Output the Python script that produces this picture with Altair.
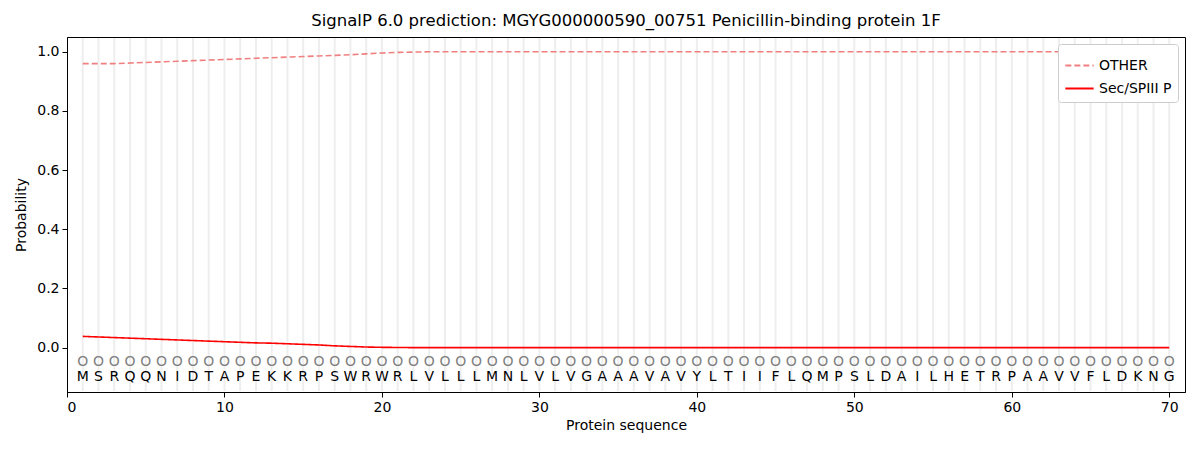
import altair as alt
import pandas as pd

sequence = list("MSRQQNIDTAPEKKRPSWRWRLVLLLMNLVLVGAAAVAVYLTIIFLQMPSLDAILHETRPAAVVFLDKNG")
positions = list(range(1, len(sequence) + 1))

other = [0.960, 0.960, 0.960, 0.962, 0.964, 0.966, 0.968, 0.970, 0.972, 0.974,
         0.976, 0.978, 0.980, 0.982, 0.984, 0.986, 0.988, 0.990, 0.993, 0.996,
         0.998, 0.999] + [1.0] * 48
sec_spiii = [0.038, 0.036, 0.034, 0.032, 0.030, 0.028, 0.026, 0.024, 0.022, 0.020,
             0.018, 0.016, 0.015, 0.013, 0.011, 0.009, 0.006, 0.004, 0.002, 0.001,
             0.0005] + [0.0] * 49

FONT = "DejaVu Sans"

lines = pd.DataFrame({
    "pos": positions * 2,
    "prob": other + sec_spiii,
    "label": ["OTHER"] * len(positions) + ["Sec/SPIII P"] * len(positions),
})
seq = pd.DataFrame({"pos": positions, "aa": sequence,
                    "circ": ["O"] * len(positions)})

xs = alt.Scale(domain=[0, 71], nice=False, zero=False)
ys = alt.Scale(domain=[-0.15, 1.05], nice=False, zero=False)

grid = alt.Chart(seq).mark_rule(color="#eeeeee", strokeWidth=2).encode(
    x=alt.X("pos:Q", scale=xs),
    y=alt.datum(1.047),
    y2=alt.datum(-0.147),
)

curves = alt.Chart(lines).mark_line(strokeWidth=1.6).encode(
    x=alt.X("pos:Q", scale=xs, title="Protein sequence",
            axis=alt.Axis(values=list(range(0, 71, 10)), grid=False, format="d")),
    y=alt.Y("prob:Q", scale=ys, title="Probability",
            axis=alt.Axis(values=[0, 0.2, 0.4, 0.6, 0.8, 1.0], format=".1f",
                          grid=False, titlePadding=8)),
    color=alt.Color("label:N", title=None,
                    scale=alt.Scale(domain=["OTHER", "Sec/SPIII P"],
                                    range=["#f08080", "#ff0000"]),
                    legend=alt.Legend(orient="top-right", symbolType="stroke",
                                      symbolStrokeWidth=2, symbolSize=800,
                                      fillColor="white", strokeColor="#cccccc",
                                      cornerRadius=3, padding=6, offset=7,
                                      labelFont=FONT, labelFontSize=14,
                                      rowPadding=0)),
    strokeDash=alt.StrokeDash("label:N",
                              scale=alt.Scale(domain=["OTHER", "Sec/SPIII P"],
                                              range=[[6, 3], [1, 0]]),
                              legend=None),
)

circles = alt.Chart(seq).mark_text(font=FONT, fontSize=14, color="#808080").encode(
    x=alt.X("pos:Q", scale=xs),
    y=alt.datum(-0.05),
    text="circ:N",
)

letters = alt.Chart(seq).mark_text(font=FONT, fontSize=14, color="black").encode(
    x=alt.X("pos:Q", scale=xs),
    y=alt.datum(-0.1),
    text="aa:N",
)

chart = alt.layer(grid, curves, circles, letters).properties(
    width=1118,
    height=355,
    title=alt.Title("SignalP 6.0 prediction: MGYG000000590_00751 Penicillin-binding protein 1F",
                    font=FONT, fontSize=16.5, fontWeight="normal", offset=7),
    autosize=alt.AutoSizeParams(type="none"),
    padding={"left": 59, "top": 29, "right": 5, "bottom": 44},
).configure_view(
    stroke="black", strokeWidth=1,
).configure_axis(
    labelFont=FONT, labelFontSize=14, titleFont=FONT, titleFontSize=14,
    titleFontWeight="normal", domainColor="black", tickColor="black",
    labelColor="black", titleColor="black", tickSize=5, labelPadding=3,
)

chart.save("out.html", embed_options={"renderer": "svg", "actions": False})
